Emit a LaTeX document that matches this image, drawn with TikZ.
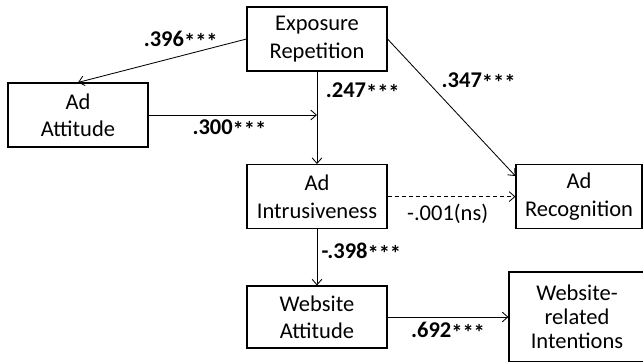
\documentclass[tikz,border=0pt]{standalone}
\usepackage{fontspec}
\setmainfont{Carlito}
\usetikzlibrary{positioning, arrows.meta}
\tikzstyle{block} = [rectangle, draw, line width=0.8pt, align=center,
    minimum width=3.5cm, minimum height=1.6cm, font=\fontsize{16}{19.5}\selectfont]
\tikzstyle{coef} = [font=\fontsize{16}{18}\selectfont\bfseries, inner sep=2pt]
\tikzstyle{nscoef} = [font=\fontsize{16}{18}\selectfont, inner sep=2pt]
\newcommand{\stars}{\raisebox{-0.3ex}{***}}

\begin{document}
\begin{tikzpicture}[node distance=2cm, line width=0.6pt, >={Straight Barb[length=4pt,width=7pt]}]
                \useasboundingbox (0,0) rectangle (16.075,-9.025);
                % Nodes
                \node [block] (expo) at (7.925,-0.975) {Exposure\\Repetition};
                \node [block] (adatt) at (1.95,-2.875) {Ad\\Attitude};
                \node [block, below of=expo, node distance=3.94cm] (intr) {Ad\\Intrusiveness};
                \node [block, right of=intr, node distance=6.55cm, minimum width=3.15cm] (recog) {Ad\\Recognition};
                \node [block, below of=intr, node distance=3.01cm, minimum height=1.55cm] (webatt) {Website\\Attitude};
                \node [block, right of=webatt, node distance=6.5cm, minimum width=3.4cm, minimum height=2.25cm,
                       font=\fontsize{16}{17}\selectfont] (intent) {Website-\\related\\Intentions};
                \coordinate (join) at (adatt.east -| expo.south);

                % Connections
                \draw [->] (expo.west) -- node[coef, pos=0.39, above=2pt] {.396\stars} (adatt.north);
                \draw [->] (expo) -- node[coef, pos=0.22, right=4pt] {.247\stars} (intr);
                \draw [->] (adatt.east) -- node[coef, pos=0.48, below=1pt] {.300\stars} (join);
                \draw [->] (expo.east) -- node[coef, pos=0.31, right=8pt] {.347\stars} ([yshift=-0.3cm]recog.north west);
                \draw [->, densely dashed] (intr) -- node[nscoef, pos=0.47, below=3pt] {-.001(ns)} (recog);
                \draw [->] (intr) -- node[coef, pos=0.41, right=1pt] {-.398\stars} (webatt);
                \draw [->] (webatt) -- node[coef, pos=0.5, below=1pt] {.692\stars} (intent);
            \end{tikzpicture}
\end{document}
